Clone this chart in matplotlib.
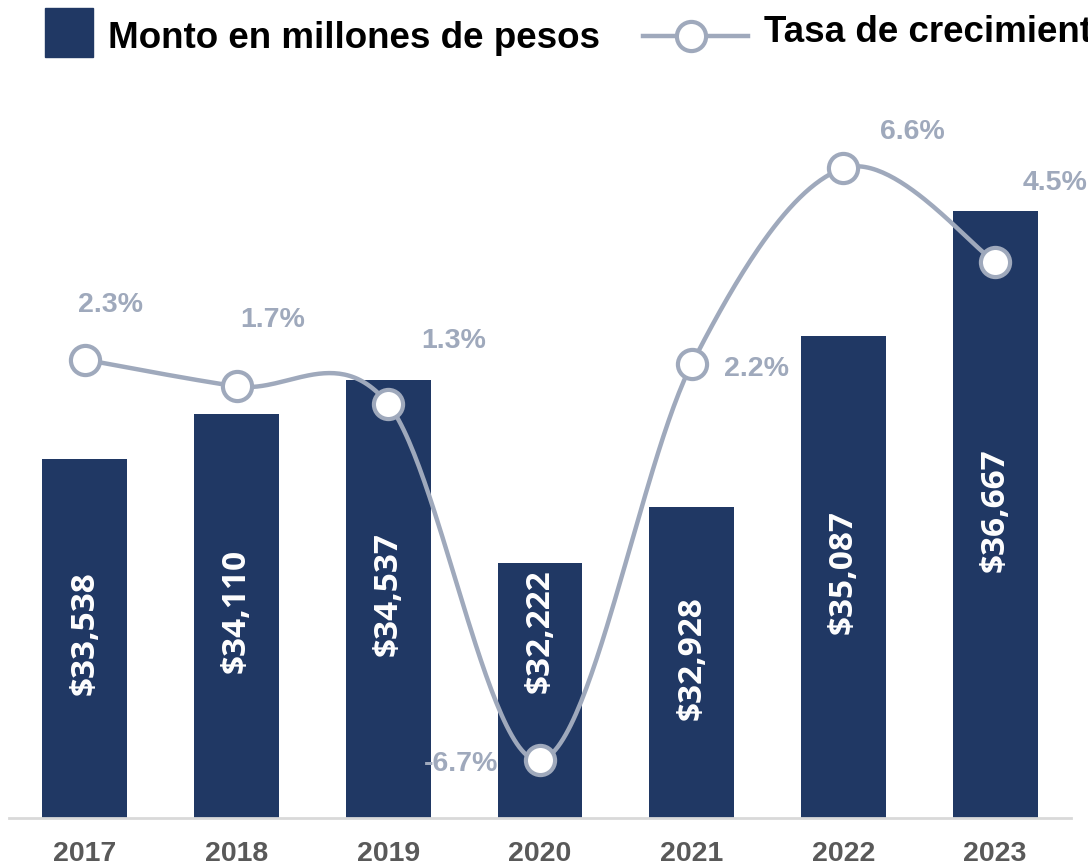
import matplotlib
matplotlib.use("Agg")
import matplotlib.pyplot as plt
import numpy as np
from matplotlib.patches import Rectangle
from matplotlib.lines import Line2D

years = ["2017", "2018", "2019", "2020", "2021", "2022", "2023"]
montos = [33538, 34110, 34537, 32222, 32928, 35087, 36667]
tasas = [2.3, 1.7, 1.3, -6.7, 2.2, 6.6, 4.5]
monto_labels = ["$33,538", "$34,110", "$34,537", "$32,222", "$32,928", "$35,087", "$36,667"]
tasa_labels = ["2.3%", "1.7%", "1.3%", "-6.7%", "2.2%", "6.6%", "4.5%"]

BAR = "#203864"
LINE = "#9FA9BC"
TXT = "#595959"

fig = plt.figure(figsize=(10.88, 8.65), dpi=100)
ax = fig.add_axes([9/1088, 47/865, (1071-9)/1088, (816-104)/865])
ax2 = ax.twinx()

x = np.arange(len(years))
ax.bar(x, montos, width=0.56, color=BAR, zorder=2)
ax.set_xlim(-0.5, len(years) - 0.5)
ax.set_ylim(29000, 38000)
ax2.set_ylim(-8, 8)

# upward shift of each bar label (pixels), the 2020 one moved clear of the marker
label_shift_px = [5, 5, 5, 59, 5, 5, 5]
for xi, v, lab, sh in zip(x, montos, monto_labels, label_shift_px):
    ax.annotate(lab, (xi, (29000 + v) / 2), xytext=(0, sh * 0.72), textcoords="offset points",
                rotation=90, ha="center", va="center", color="white", fontsize=24,
                fontweight="bold", family="Open Sans", zorder=5)

# smoothed line (Catmull-Rom through the data points, like a spreadsheet smoothed line)
px = np.concatenate([[x[0]], x, [x[-1]]]).astype(float)
py = np.concatenate([[tasas[0]], tasas, [tasas[-1]]]).astype(float)
sx, sy = [], []
t = np.linspace(0, 1, 60)
for i in range(1, len(px) - 2):
    p0, p1, p2, p3 = px[i-1], px[i], px[i+1], px[i+2]
    q0, q1, q2, q3 = py[i-1], py[i], py[i+1], py[i+2]
    m1x, m2x = (p2 - p0) / 2, (p3 - p1) / 2
    m1y, m2y = (q2 - q0) / 2, (q3 - q1) / 2
    h00 = 2*t**3 - 3*t**2 + 1
    h10 = t**3 - 2*t**2 + t
    h01 = -2*t**3 + 3*t**2
    h11 = t**3 - t**2
    sx.extend(h00*p1 + h10*m1x + h01*p2 + h11*m2x)
    sy.extend(h00*q1 + h10*m1y + h01*q2 + h11*m2y)
ax2.plot(sx, sy, color=LINE, lw=3.2, zorder=3, solid_capstyle="round")
ax2.plot(x, tasas, ls="none", marker="o", ms=21, mfc="white", mec=LINE, mew=3, zorder=4)

offsets = [(26, 55), (36, 66), (65, 63), (-79, -4), (65, -5), (69, 36), (60, 79)]
for xi, v, lab, (dx, dy) in zip(x, tasas, tasa_labels, offsets):
    ax2.annotate(lab, (xi, v), xytext=(dx * 0.72, dy * 0.72), textcoords="offset points",
                 ha="center", va="center", color=LINE, fontsize=20.5, fontweight="bold",
                 family="Liberation Sans", annotation_clip=False)

for a in (ax, ax2):
    for s in a.spines.values():
        s.set_visible(False)
    a.set_yticks([])
ax.spines["bottom"].set_visible(True)
ax.spines["bottom"].set_color("#D9D9D9")
ax.spines["bottom"].set_linewidth(2)
ax.set_xticks(x)
ax.set_xticklabels(years, fontsize=20.5, fontweight="bold", color=TXT, family="Liberation Sans")
ax.tick_params(axis="x", length=0, pad=16.5)

# legend (manual, in figure coordinates)
fig.patches.append(Rectangle((45/1088, 1 - 57/865), 48/1088, 49/865, transform=fig.transFigure,
                             color=BAR))
fig.text(108/1088, 1 - 38/865, "Monto en millones de pesos", fontsize=26.5, fontweight="bold",
         family="Liberation Sans", va="center", ha="left", color="black")
fig.lines.append(Line2D([643/1088, 748/1088], [1 - 36/865, 1 - 36/865], transform=fig.transFigure,
                        color=LINE, lw=3.2))
fig.lines.append(Line2D([691/1088], [1 - 36/865], transform=fig.transFigure, ls="none", marker="o",
                        ms=21, mfc="white", mec=LINE, mew=3))
fig.text(764/1088, 1 - 33/865, "Tasa de crecimiento", fontsize=26.5, fontweight="bold",
         family="Liberation Sans", va="center", ha="left", color="black")

fig.savefig("out.png", dpi=100)
